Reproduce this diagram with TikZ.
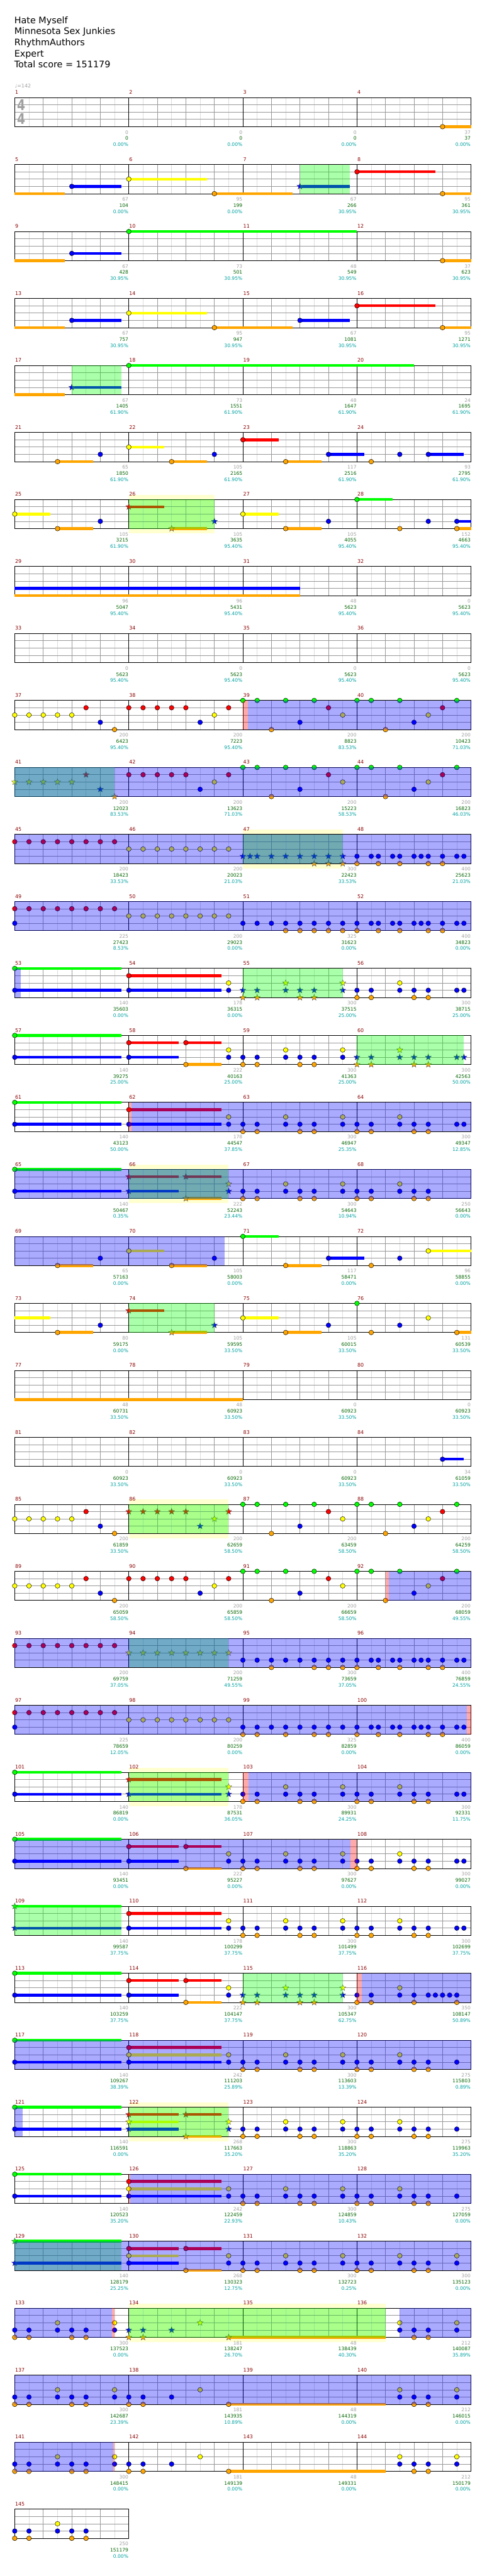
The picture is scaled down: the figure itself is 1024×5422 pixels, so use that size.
\documentclass[tikz,border=0pt]{standalone}
\usepackage{fontspec}
\setmainfont{DejaVu Sans}
\definecolor{lane0}{RGB}{0,255,0}
\definecolor{lane1}{RGB}{255,0,0}
\definecolor{lane2}{RGB}{255,255,0}
\definecolor{lane3}{RGB}{0,0,255}
\definecolor{lane4}{RGB}{255,165,0}
\definecolor{gridlight}{RGB}{220,220,220}
\definecolor{gridmid}{RGB}{153,153,153}
\definecolor{mnumc}{RGB}{139,0,0}
\definecolor{gnumc}{RGB}{160,160,160}
\definecolor{snumc}{RGB}{0,100,0}
\definecolor{pnumc}{RGB}{0,160,160}
\definecolor{bandc}{RGB}{255,255,208}
\tikzset{
 mnum/.style={anchor=base west,inner sep=0pt,text=mnumc,font=\fontsize{10.5}{12}\selectfont,yshift=7pt,xshift=0.7pt},
 gnum/.style={anchor=base east,inner sep=0pt,text=gnumc,font=\fontsize{10}{12}\selectfont,yshift=-15.4pt,xshift=-0.8pt},
 snum/.style={anchor=base east,inner sep=0pt,text=snumc,font=\fontsize{10}{12}\selectfont,yshift=-28.4pt,xshift=-0.8pt},
 pnum/.style={anchor=base east,inner sep=0pt,text=pnumc,font=\fontsize{10}{12}\selectfont,yshift=-41.4pt,xshift=-0.8pt},
 hdr/.style={anchor=base west,inner sep=0pt,font=\fontsize{19}{23}\selectfont},
 tsig/.style={inner sep=0pt,text=gnumc,font=\fontsize{31}{31}\selectfont\bfseries},
 glight/.style={draw=gridlight,line width=1pt},
 gmid/.style={draw=gridmid,line width=1pt}
}
\newcommand\Nt[2]{\foreach \p in {#2}{\filldraw[fill=lane#1,draw=black,line width=0.6pt] (\p,#1) circle[radius=5pt];}}
\newcommand\St[2]{\foreach \p in {#2}{\begin{scope}[shift={(\p,#1)},x=1pt,y=1pt]\filldraw[fill=lane#1,draw=black!70,line width=0.5pt] (90:6.8)--(126:2.9)--(162:6.8)--(198:2.9)--(234:6.8)--(270:2.9)--(306:6.8)--(342:2.9)--(18:6.8)--(54:2.9)--cycle;\end{scope}}}
\newcommand\Su[3]{\draw[lane#1,line width=6pt] (#2,#1)--(#3,#1);}
\newcommand\Sp[2]{\fill[green,fill opacity=0.333] (#1,0) rectangle (#2,4);}
\newcommand\Bl[2]{\fill[blue,fill opacity=0.333] (#1,0) rectangle (#2,4);}
\newcommand\Pk[2]{\fill[red,fill opacity=0.333] (#1,0) rectangle (#2,4);}
\newcommand\Band[2]{\fill[bandc] (#1,-0.65) rectangle (#2,4.65);}
\newcommand\GridN[1]{\pgfmathtruncatemacro\gE{8*#1}\pgfmathtruncatemacro\gEm{8*#1-1}%
 \foreach \i in {1,3,...,\gEm}{\draw[glight] (\i,0)--(\i,4);}%
 \foreach \i in {2,4,...,\gE}{\draw[gmid] (\i,0)--(\i,4);}%
 \foreach \j in {1,2,3}{\draw[gmid] (0,\j)--(\gE,\j);}%
 \ifnum#1>1 \foreach \i in {8,16,24}{\draw[black,line width=1pt] (\i,0)--(\i,4);}\fi
 \draw[black,line width=1pt] (0,0) rectangle (\gE,4);}
\newcommand\Lab[5]{\node[mnum] (m#2) at ({8*#1},0) {#2};\node[gnum] (g#2) at ({8*#1+8},4) {#3};\node[snum] (s#2) at ({8*#1+8},4) {#4};\node[pnum] (p#2) at ({8*#1+8},4) {#5\%};}
\newcommand\Row[2]{\pgfmathsetmacro\rowy{-205.3-141*#1}\begin{scope}[shift={(31,\rowy)},x=30pt,y=-15.333pt]#2\end{scope}}
\begin{document}
\begin{tikzpicture}[x=1pt,y=1pt]
\useasboundingbox (0,0) rectangle (1024,-5422);
\fill[white] (0,0) rectangle (1024,-5422);
\node[hdr] (title) at (30,-49.3) {Hate Myself};
\node[hdr] (artist) at (30,-72.6) {Minnesota Sex Junkies};
\node[hdr] (charter) at (30,-95.9) {RhythmAuthors};
\node[hdr] (diff) at (30,-119.2) {Expert};
\node[hdr] (total) at (30,-142.5) {Total score = 151179};
\node[anchor=base west,inner sep=0pt,text=gnumc,font=\fontsize{10.5}{12}\selectfont] (tempo) at (31,-185) {♩=142};
% row 0
\Row{0}{\GridN{4}
\Su{4}{30}{32}\Nt{4}{30}
\Lab{0}{1}{0}{0}{0.00}\Lab{1}{2}{0}{0}{0.00}\Lab{2}{3}{0}{0}{0.00}\Lab{3}{4}{37}{37}{0.00}}
\node[tsig] (ts1) at (44.5,-221) {\scalebox{0.8}[1]{4}};
\node[tsig] (ts2) at (44.5,-250) {\scalebox{0.8}[1]{4}};
% row 1
\Row{1}{\GridN{4}
\Su{4}{0}{3.5}\Su{3}{4}{7.5}\Su{2}{8}{13.5}\Su{4}{14}{19.5}\Su{3}{20}{23.5}\Su{1}{24}{29.5}\Su{4}{30}{32}
\Nt{3}{4}\Nt{2}{8}\Nt{4}{14,30}\Nt{1}{24}\St{3}{20}
\Sp{20}{23.5}
\Lab{0}{5}{67}{104}{0.00}\Lab{1}{6}{95}{199}{0.00}\Lab{2}{7}{67}{266}{30.95}\Lab{3}{8}{95}{361}{30.95}}
% row 2
\Row{2}{\GridN{4}
\Su{4}{0}{3.5}\Su{3}{4}{7.5}\Su{0}{8}{24}\Su{4}{30}{32}
\Nt{3}{4}\Nt{0}{8}\Nt{4}{30}
\Lab{0}{9}{67}{428}{30.95}\Lab{1}{10}{73}{501}{30.95}\Lab{2}{11}{48}{549}{30.95}\Lab{3}{12}{37}{623}{30.95}}
% row 3
\Row{3}{\GridN{4}
\Su{4}{0}{3.5}\Su{3}{4}{7.5}\Su{2}{8}{13.5}\Su{4}{14}{19.5}\Su{3}{20}{23.5}\Su{1}{24}{29.5}\Su{4}{30}{32}
\Nt{3}{4,20}\Nt{2}{8}\Nt{4}{14,30}\Nt{1}{24}
\Lab{0}{13}{67}{757}{30.95}\Lab{1}{14}{95}{947}{30.95}\Lab{2}{15}{67}{1081}{30.95}\Lab{3}{16}{95}{1271}{30.95}}
% row 4
\Row{4}{\GridN{4}
\Su{4}{0}{3.5}\Su{3}{4}{7.5}\Su{0}{8}{28}
\St{3}{4}\Nt{0}{8}
\Sp{4}{7.5}
\Lab{0}{17}{67}{1405}{61.90}\Lab{1}{18}{73}{1551}{61.90}\Lab{2}{19}{48}{1647}{61.90}\Lab{3}{20}{24}{1695}{61.90}}
% row 5
\Row{5}{\GridN{4}
\Su{4}{3}{5.5}\Su{2}{8}{10.5}\Su{4}{11}{13.5}\Su{1}{16}{18.5}\Su{4}{19}{21.5}\Su{3}{22}{24.5}\Su{3}{29}{31.5}
\Nt{4}{3,11,19,25}\Nt{3}{6,14,22,27,29}\Nt{2}{8}\Nt{1}{16}
\Lab{0}{21}{65}{1850}{61.90}\Lab{1}{22}{105}{2165}{61.90}\Lab{2}{23}{117}{2516}{61.90}\Lab{3}{24}{93}{2795}{61.90}}
% row 6
\Row{6}{\Band{8}{14}\GridN{4}
\Su{2}{0}{2.5}\Su{4}{3}{5.5}\Su{1}{8}{10.5}\Su{4}{11}{13.5}\Su{2}{16}{18.5}\Su{4}{19}{21.5}\Su{0}{24}{26.5}\Su{3}{31}{32}\Su{4}{31}{32}
\Nt{2}{0,16}\Nt{4}{3,19,27,31}\Nt{3}{6,22,29,31}\Nt{0}{24}
\St{1}{8}\St{4}{11}\St{3}{14}
\Sp{8}{14}
\Lab{0}{25}{105}{3215}{61.90}\Lab{1}{26}{105}{3635}{95.40}\Lab{2}{27}{105}{4055}{95.40}\Lab{3}{28}{152}{4663}{95.40}}
% row 7
\Row{7}{\GridN{4}
\Su{3}{0}{20}\Su{4}{0}{20}
\Lab{0}{29}{96}{5047}{95.40}\Lab{1}{30}{96}{5431}{95.40}\Lab{2}{31}{48}{5623}{95.40}\Lab{3}{32}{0}{5623}{95.40}}
% row 8
\Row{8}{\GridN{4}
\Lab{0}{33}{0}{5623}{95.40}\Lab{1}{34}{0}{5623}{95.40}\Lab{2}{35}{0}{5623}{95.40}\Lab{3}{36}{0}{5623}{95.40}}
% row 9
\Row{9}{\GridN{4}
\Nt{2}{0,1,2,3,4,14,23,29}\Nt{1}{5,8,9,10,11,12,15,22,30}\Nt{3}{6,13,20,28}\Nt{4}{7,18,26}\Nt{0}{16,17,19,21,24,25,27,31}
\Pk{16}{16.37}\Bl{16.37}{32}
\Lab{0}{37}{200}{6423}{95.40}\Lab{1}{38}{200}{7223}{95.40}\Lab{2}{39}{200}{8823}{83.53}\Lab{3}{40}{200}{10423}{71.03}}
% row 10
\Row{10}{\GridN{4}
\St{2}{0,1,2,3,4}\St{1}{5}\St{3}{6}\St{4}{7}
\Nt{1}{8,9,10,11,12,15,22,30}\Nt{3}{13,20,28}\Nt{2}{14,23,29}\Nt{0}{16,17,19,21,24,25,27,31}\Nt{4}{18,26}
\Sp{0}{7}\Bl{0}{32}
\Lab{0}{41}{200}{12023}{83.53}\Lab{1}{42}{200}{13623}{71.03}\Lab{2}{43}{200}{15223}{58.53}\Lab{3}{44}{200}{16823}{46.03}}
% row 11
\Row{11}{\Band{16}{23}\GridN{4}
\Nt{1}{0,...,7}\Nt{2}{8,...,15}
\St{3}{16,16.5,17,18,19,20,21,22,23}\St{4}{21,22,23}
\Nt{3}{24,25,25.5,26.5,27,28,28.5,29,30,31,31.5}\Nt{4}{24,25.5,27,29,30}
\Sp{16}{23}\Bl{0}{32}
\Lab{0}{45}{200}{18423}{33.53}\Lab{1}{46}{200}{20023}{21.03}\Lab{2}{47}{300}{22423}{33.53}\Lab{3}{48}{400}{25623}{21.03}}
% row 12
\Row{12}{\GridN{4}
\Nt{1}{0,...,7}\Nt{3}{0}\Nt{2}{8,...,15}
\Nt{3}{16,17,18,19,20,21,22,23,24,25,25.5,26.5,27,28,28.5,29,30,31,31.5}
\Nt{4}{19,20,21,22,23,24,25.5,27,29,30}
\Bl{0}{32}
\Lab{0}{49}{225}{27423}{8.53}\Lab{1}{50}{200}{29023}{0.00}\Lab{2}{51}{325}{31623}{0.00}\Lab{3}{52}{400}{34823}{0.00}}
% row 13
\Row{13}{\GridN{4}
\Su{0}{0}{7.5}\Su{3}{0}{7.5}\Su{1}{8}{14.5}\Su{3}{8}{14.5}
\Nt{0}{0}\Nt{3}{0,8,15,24,25,27,28,29,31,31.5}\Nt{1}{8}\Nt{2}{15,27}\Nt{4}{24,25,28,29}
\St{3}{16,17,19,20,21,23}\St{4}{16,17,20,21}\St{2}{19,23}
\Sp{16}{23}\Bl{0}{0.41}
\Lab{0}{53}{140}{35603}{0.00}\Lab{1}{54}{178}{36315}{0.00}\Lab{2}{55}{300}{37515}{25.00}\Lab{3}{56}{300}{38715}{25.00}}
% row 14
\Row{14}{\GridN{4}
\Su{0}{0}{7.5}\Su{3}{0}{7.5}\Su{1}{8}{11.5}\Su{1}{12}{14.5}\Su{3}{8}{11.5}\Su{4}{12}{14.5}
\Nt{0}{0}\Nt{3}{0,8,15,16,17,19,20,21,23}\Nt{1}{8,12}\Nt{4}{12,16,17,20,21}\Nt{2}{15,19,23}
\St{3}{24,25,27,28,29,31,31.5}\St{4}{24,25,28,29}\St{2}{27}
\Sp{24}{31.5}
\Lab{0}{57}{140}{39275}{25.00}\Lab{1}{58}{222}{40163}{25.00}\Lab{2}{59}{300}{41363}{25.00}\Lab{3}{60}{300}{42563}{50.00}}
% row 15
\Row{15}{\GridN{4}
\Su{0}{0}{7.5}\Su{3}{0}{7.5}\Su{1}{8}{14.5}\Su{3}{8}{14.5}
\Nt{0}{0}\Nt{3}{0,8,15,16,17,19,20,21,23,24,25,27,28,29,31,31.5}\Nt{1}{8}\Nt{2}{15,19,23,27}\Nt{4}{16,17,20,21,24,25,28,29}
\Pk{8}{8.17}\Bl{8.17}{32}
\Lab{0}{61}{140}{43123}{50.00}\Lab{1}{62}{178}{44547}{37.85}\Lab{2}{63}{300}{46947}{25.35}\Lab{3}{64}{300}{49347}{12.85}}
% row 16
\Row{16}{\Band{8}{15}\GridN{4}
\Su{0}{0}{7.5}\Su{3}{0}{7.5}\Su{1}{8}{11.5}\Su{1}{12}{14.5}\Su{3}{8}{11.5}\Su{4}{12}{14.5}
\Nt{0}{0}\Nt{3}{0,16,17,19,20,21,23,24,25,27,28,29}\Nt{2}{19,23,27}\Nt{4}{16,17,20,21,24,25,28,29}
\St{1}{8,12}\St{3}{8,15}\St{4}{12}\St{2}{15}
\Sp{8}{15}\Bl{0}{32}
\Lab{0}{65}{140}{50467}{0.35}\Lab{1}{66}{222}{52243}{23.44}\Lab{2}{67}{300}{54643}{10.94}\Lab{3}{68}{250}{56643}{0.00}}
% row 17
\Row{17}{\GridN{4}
\Su{4}{3}{5.5}\Su{2}{8}{10.5}\Su{4}{11}{13.5}\Su{0}{16}{18.5}\Su{4}{19}{21.5}\Su{3}{22}{24.5}\Su{2}{29}{32}
\Nt{4}{3,11,19,25}\Nt{3}{6,14,22,27}\Nt{2}{8,29}\Nt{0}{16}
\Bl{0}{14.74}
\Lab{0}{69}{65}{57163}{0.00}\Lab{1}{70}{105}{58003}{0.00}\Lab{2}{71}{117}{58471}{0.00}\Lab{3}{72}{96}{58855}{0.00}}
% row 18
\Row{18}{\GridN{4}
\Su{2}{0}{2.5}\Su{4}{3}{5.5}\Su{1}{8}{10.5}\Su{4}{11}{13.5}\Su{2}{16}{18.5}\Su{4}{19}{21.5}\Su{4}{31}{32}
\Nt{4}{3,19,25,31}\Nt{3}{6,22,27}\Nt{2}{16,29}\Nt{0}{24}
\St{1}{8}\St{4}{11}\St{3}{14}
\Sp{8}{14}
\Lab{0}{73}{80}{59175}{0.00}\Lab{1}{74}{105}{59595}{33.50}\Lab{2}{75}{105}{60015}{33.50}\Lab{3}{76}{131}{60539}{33.50}}
% row 19
\Row{19}{\GridN{4}
\Su{4}{0}{16}
\Lab{0}{77}{48}{60731}{33.50}\Lab{1}{78}{48}{60923}{33.50}\Lab{2}{79}{0}{60923}{33.50}\Lab{3}{80}{0}{60923}{33.50}}
% row 20
\Row{20}{\GridN{4}
\Su{3}{30}{31.5}\Nt{3}{30}
\Lab{0}{81}{0}{60923}{33.50}\Lab{1}{82}{0}{60923}{33.50}\Lab{2}{83}{0}{60923}{33.50}\Lab{3}{84}{34}{61059}{33.50}}
% row 21
\Row{21}{\Band{8}{15}\GridN{4}
\Nt{2}{0,1,2,3,4,23,29}\Nt{1}{5,22,30}\Nt{3}{6,20,28}\Nt{4}{7,18,26}\Nt{0}{16,17,19,21,24,25,27,31}
\St{1}{8,9,10,11,12,15}\St{3}{13}\St{2}{14}
\Sp{8}{15}
\Lab{0}{85}{200}{61859}{33.50}\Lab{1}{86}{200}{62659}{58.50}\Lab{2}{87}{200}{63459}{58.50}\Lab{3}{88}{200}{64259}{58.50}}
% row 22
\Row{22}{\GridN{4}
\Nt{2}{0,1,2,3,4,14,23,29}\Nt{1}{5,8,9,10,11,12,15,22,30}\Nt{3}{6,13,20,28}\Nt{4}{7,18,26}\Nt{0}{16,17,19,21,24,25,27,31}
\Pk{26}{26.22}\Bl{26.22}{32}
\Lab{0}{89}{200}{65059}{58.50}\Lab{1}{90}{200}{65859}{58.50}\Lab{2}{91}{200}{66659}{58.50}\Lab{3}{92}{200}{68059}{49.55}}
% row 23
\Row{23}{\GridN{4}
\Nt{1}{0,...,7}\St{2}{8,...,15}
\Nt{3}{16,...,24}\Nt{3}{25,25.5,26.5,27,28,28.5,29,30,31,31.5}
\Nt{4}{18,21,22,23,24,25.5,27,29,30}
\Sp{8}{15}\Bl{0}{32}
\Lab{0}{93}{200}{69759}{37.05}\Lab{1}{94}{200}{71259}{49.55}\Lab{2}{95}{300}{73659}{37.05}\Lab{3}{96}{400}{76859}{24.55}}
% row 24
\Row{24}{\GridN{4}
\Nt{1}{0,...,7}\Nt{3}{0}\Nt{2}{8,...,15}
\Nt{3}{16,...,24}\Nt{3}{25,25.5,26.5,27,28,28.5,29,30,31,31.5}
\Nt{4}{16,17,19,21,22,24,25.5,27,29,30}
\Bl{0}{31.7}\Pk{31.7}{32}
\Lab{0}{97}{225}{78659}{12.05}\Lab{1}{98}{200}{80259}{0.00}\Lab{2}{99}{325}{82859}{0.00}\Lab{3}{100}{400}{86059}{0.00}}
% row 25
\Row{25}{\Band{8}{15}\GridN{4}
\Su{0}{0}{7.5}\Su{3}{0}{7.5}\Su{1}{8}{14.5}\Su{3}{8}{14.5}
\Nt{0}{0}\Nt{3}{0,16,17,19,20,21,23,24,25,27,28,29,31,31.5}\Nt{2}{19,23,27}\Nt{4}{16,17,20,21,24,25,28,29}
\St{1}{8}\St{3}{8,15}\St{2}{15}
\Sp{8}{15}\Pk{16}{16.4}\Bl{16.4}{32}
\Lab{0}{101}{140}{86819}{0.00}\Lab{1}{102}{178}{87531}{36.05}\Lab{2}{103}{300}{89931}{24.25}\Lab{3}{104}{300}{92331}{11.75}}
% row 26
\Row{26}{\GridN{4}
\Su{0}{0}{7.5}\Su{3}{0}{7.5}\Su{1}{8}{11.5}\Su{1}{12}{14.5}\Su{3}{8}{11.5}\Su{4}{12}{14.5}
\Nt{0}{0}\Nt{3}{0,8,15,16,17,19,20,21,23,24,25,27,28,29,31,31.5}\Nt{1}{8,12}\Nt{4}{12,16,17,20,21,24,25,28,29}\Nt{2}{15,19,23,27}
\Bl{0}{23.55}\Pk{23.55}{24}
\Lab{0}{105}{140}{93451}{0.00}\Lab{1}{106}{222}{95227}{0.00}\Lab{2}{107}{300}{97627}{0.00}\Lab{3}{108}{300}{99027}{0.00}}
% row 27
\Row{27}{\GridN{4}
\Su{0}{0}{7.5}\Su{3}{0}{7.5}\Su{1}{8}{14.5}\Su{3}{8}{14.5}
\St{0}{0}\St{3}{0}\Nt{1}{8}\Nt{3}{8,15,16,17,19,20,21,23,24,25,27,28,29,31,31.5}\Nt{2}{15,19,23,27}\Nt{4}{16,17,20,21,24,25,28,29}
\Sp{0}{7.5}
\Lab{0}{109}{140}{99587}{37.75}\Lab{1}{110}{178}{100299}{37.75}\Lab{2}{111}{300}{101499}{37.75}\Lab{3}{112}{300}{102699}{37.75}}
% row 28
\Row{28}{\GridN{4}
\Su{0}{0}{7.5}\Su{3}{0}{7.5}\Su{1}{8}{11.5}\Su{1}{12}{14.5}\Su{3}{8}{11.5}\Su{4}{12}{14.5}
\Nt{0}{0}\Nt{3}{0,8,15,24,25,27,28,29,29.5,30,30.5,31}\Nt{1}{8,12}\Nt{4}{12,24,25,28,31}\Nt{2}{15,27}
\St{3}{16,17,19,20,21,23}\St{4}{16,17,20,21}\St{2}{19,23}
\Sp{16}{23}\Pk{24}{24.35}\Bl{24.35}{32}
\Lab{0}{113}{140}{103259}{37.75}\Lab{1}{114}{222}{104147}{37.75}\Lab{2}{115}{300}{105347}{62.75}\Lab{3}{116}{350}{108147}{50.89}}
% row 29
\Row{29}{\GridN{4}
\Su{0}{0}{7.5}\Su{3}{0}{7.5}\Su{1}{8}{14.5}\Su{2}{8}{14.5}\Su{3}{8}{14.5}
\Nt{0}{0}\Nt{3}{0,8,15,16,17,19,20,21,23,24,25,27,28,29,31}\Nt{1}{8}\Nt{2}{8,15,19,23,27}\Nt{4}{16,17,20,21,24,25,28,29}
\Bl{0}{32}
\Lab{0}{117}{140}{109267}{38.39}\Lab{1}{118}{242}{111203}{25.89}\Lab{2}{119}{300}{113603}{13.39}\Lab{3}{120}{275}{115803}{0.89}}
% row 30
\Row{30}{\Band{8}{15}\GridN{4}
\Su{0}{0}{7.5}\Su{3}{0}{7.5}\Su{1}{8}{11.5}\Su{1}{12}{14.5}\Su{2}{8}{11.5}\Su{3}{8}{11.5}\Su{4}{12}{14.5}
\Nt{0}{0}\Nt{3}{0,16,17,19,20,21,23,24,25,27,28,29,31}\Nt{2}{19,23,27}\Nt{4}{16,17,20,21,24,25,28,29}
\St{1}{8,12}\St{2}{8,15}\St{3}{8,15}\St{4}{12}
\Sp{8}{15}\Bl{0}{0.54}
\Lab{0}{121}{140}{116591}{0.00}\Lab{1}{122}{268}{117663}{35.20}\Lab{2}{123}{300}{118863}{35.20}\Lab{3}{124}{275}{119963}{35.20}}
% row 31
\Row{31}{\GridN{4}
\Su{0}{0}{7.5}\Su{3}{0}{7.5}\Su{1}{8}{14.5}\Su{2}{8}{14.5}\Su{3}{8}{14.5}
\Nt{0}{0}\Nt{3}{0,8,15,16,17,19,20,21,23,24,25,27,28,29,31}\Nt{1}{8}\Nt{2}{8,15,19,23,27}\Nt{4}{16,17,20,21,24,25,28,29}
\Pk{8}{8.1}\Bl{8.1}{32}
\Lab{0}{125}{140}{120523}{35.20}\Lab{1}{126}{242}{122459}{22.93}\Lab{2}{127}{300}{124859}{10.43}\Lab{3}{128}{275}{127059}{0.00}}
% row 32
\Row{32}{\GridN{4}
\Su{0}{0}{7.5}\Su{3}{0}{7.5}\Su{1}{8}{11.5}\Su{1}{12}{14.5}\Su{2}{8}{11.5}\Su{3}{8}{11.5}\Su{4}{12}{14.5}
\St{0}{0}\St{3}{0}\Nt{1}{8,12}\Nt{2}{8,15,19,23,27,31}\Nt{3}{8,15,16,17,19,20,21,23,24,25,27,28,29,31}\Nt{4}{12,16,17,20,21,24,25,28,29}
\Sp{0}{7.5}\Bl{0}{32}
\Lab{0}{129}{140}{128179}{25.25}\Lab{1}{130}{268}{130323}{12.75}\Lab{2}{131}{300}{132723}{0.25}\Lab{3}{132}{300}{135123}{0.00}}
% row 33
\Row{33}{\Band{8}{26}\GridN{4}
\Su{4}{15}{26}
\Nt{3}{0,1,3,4,5,7,27,28,29,31}\Nt{4}{0,1,4,5,28,29}\Nt{2}{3,7,27,31}
\St{3}{8,9,11}\St{4}{8,9,15}\St{2}{13}
\Sp{8}{26}\Bl{0}{6.83}\Pk{6.83}{7}\Bl{27}{32}
\Lab{0}{133}{300}{137523}{0.00}\Lab{1}{134}{181}{138247}{26.70}\Lab{2}{135}{48}{138439}{40.30}\Lab{3}{136}{212}{140087}{35.89}}
% row 34
\Row{34}{\GridN{4}
\Su{4}{15}{26}
\Nt{3}{0,1,3,4,5,7,8,9,11,27,28,29,31}\Nt{4}{0,1,4,5,8,9,15,28,29}\Nt{2}{3,7,13,27,31}
\Bl{0}{32}
\Lab{0}{137}{300}{142687}{23.39}\Lab{1}{138}{181}{143935}{10.89}\Lab{2}{139}{48}{144319}{0.00}\Lab{3}{140}{212}{146015}{0.00}}
% row 35
\Row{35}{\GridN{4}
\Su{4}{15}{26}
\Nt{3}{0,1,3,4,5,7,8,9,11,27,28,29,31}\Nt{4}{0,1,4,5,8,9,15,28,29}\Nt{2}{3,7,13,27,31}
\Bl{0}{6.93}\Pk{6.93}{7}
\Lab{0}{141}{300}{148415}{0.00}\Lab{1}{142}{181}{149139}{0.00}\Lab{2}{143}{48}{149331}{0.00}\Lab{3}{144}{212}{150179}{0.00}}
% row 36
\Row{36}{\GridN{1}
\Nt{3}{0,1,3,4,5}\Nt{4}{0,1,4,5}\Nt{2}{3}
\Lab{0}{145}{250}{151179}{0.00}}
\end{tikzpicture}
\end{document}
